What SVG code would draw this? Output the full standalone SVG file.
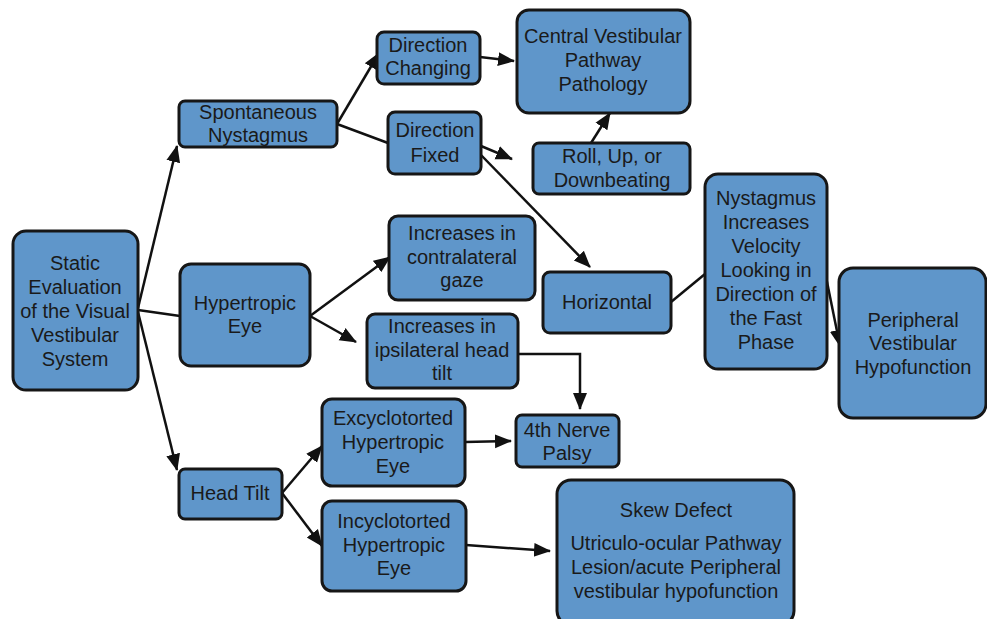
<svg xmlns="http://www.w3.org/2000/svg" width="987" height="619" viewBox="0 0 987 619">
<defs>
<marker id="ah" markerUnits="userSpaceOnUse" markerWidth="18" markerHeight="16" refX="16" refY="7" orient="auto" viewBox="0 0 18 14">
<path d="M0,0 L17,7 L0,14 z" fill="#111"/>
</marker>
</defs>
<style>
.n rect{fill:#5f96ca;stroke:#161616;stroke-width:3}
.n text{font-family:"Liberation Sans",Arial,sans-serif;font-size:20px;fill:#1a1a1a;text-anchor:middle}
.c line,.c polyline{stroke:#111;stroke-width:2.5;fill:none}
.a{marker-end:url(#ah)}
</style>
<rect width="987" height="619" fill="#fff"/>
<g class="c">
<line class="a" x1="138" y1="308" x2="177" y2="146"/>
<line x1="138" y1="310" x2="180" y2="316"/>
<line class="a" x1="138" y1="312" x2="177" y2="470"/>
<line class="a" x1="337" y1="124" x2="379" y2="53"/>
<line x1="337" y1="124" x2="388" y2="143"/>
<line class="a" x1="480" y1="57" x2="514" y2="61"/>
<line class="a" x1="481" y1="146" x2="512" y2="159"/>
<line class="a" x1="481" y1="155" x2="590" y2="267"/>
<line class="a" x1="591" y1="143" x2="610" y2="113"/>
<line class="a" x1="310" y1="316" x2="390" y2="257"/>
<line class="a" x1="310" y1="316" x2="356" y2="342"/>
<polyline class="a" points="518,354 580,354 580,409"/>
<line x1="671" y1="302" x2="705" y2="274"/>
<line class="a" x1="826" y1="277" x2="840" y2="346"/>
<line class="a" x1="282" y1="493" x2="322" y2="446"/>
<line class="a" x1="282" y1="493" x2="322" y2="546"/>
<line class="a" x1="465" y1="442" x2="511" y2="441"/>
<line class="a" x1="466" y1="545" x2="550" y2="551"/>
</g>
<g class="n" id="static"><rect x="13" y="231" width="125" height="159" rx="13"/><text x="75" y="270">Static</text><text x="75" y="294">Evaluation</text><text x="75" y="318">of the Visual</text><text x="75" y="342">Vestibular</text><text x="75" y="366">System</text></g>
<g class="n" id="spont"><rect x="179" y="101" width="158" height="46" rx="6"/><text x="258" y="119">Spontaneous</text><text x="258" y="142">Nystagmus</text></g>
<g class="n" id="hyper"><rect x="180" y="264" width="130" height="102" rx="11"/><text x="245" y="310">Hypertropic</text><text x="245" y="333">Eye</text></g>
<g class="n" id="headtilt"><rect x="179" y="469" width="103" height="50" rx="6"/><text x="230" y="500">Head Tilt</text></g>
<g class="n" id="dirchg"><rect x="377" y="32" width="103" height="52" rx="7"/><text x="428" y="52">Direction</text><text x="428" y="75">Changing</text></g>
<g class="n" id="dirfix"><rect x="388" y="112" width="93" height="62" rx="7"/><text x="435" y="137">Direction</text><text x="435" y="162">Fixed</text></g>
<g class="n" id="central"><rect x="517" y="10" width="173" height="103" rx="12"/><text x="603" y="43">Central Vestibular</text><text x="603" y="67">Pathway</text><text x="603" y="91">Pathology</text></g>
<g class="n" id="roll"><rect x="533" y="143" width="157" height="51" rx="6"/><text x="612" y="163">Roll, Up, or</text><text x="612" y="187">Downbeating</text></g>
<g class="n" id="contra"><rect x="389" y="216" width="146" height="84" rx="9"/><text x="462" y="240">Increases in</text><text x="462" y="264">contralateral</text><text x="462" y="287">gaze</text></g>
<g class="n" id="horiz"><rect x="543" y="272" width="128" height="61" rx="7"/><text x="607" y="309">Horizontal</text></g>
<g class="n" id="ipsi"><rect x="367" y="314" width="151" height="74" rx="8"/><text x="442" y="333">Increases in</text><text x="442" y="357">ipsilateral head</text><text x="442" y="380">tilt</text></g>
<g class="n" id="nyst"><rect x="705" y="174" width="122" height="195" rx="13"/><text x="766" y="205">Nystagmus</text><text x="766" y="229">Increases</text><text x="766" y="253">Velocity</text><text x="766" y="277">Looking in</text><text x="766" y="301">Direction of</text><text x="766" y="325">the Fast</text><text x="766" y="349">Phase</text></g>
<g class="n" id="periph"><rect x="839" y="268" width="147" height="150" rx="14"/><text x="913" y="327">Peripheral</text><text x="913" y="350">Vestibular</text><text x="913" y="374">Hypofunction</text></g>
<g class="n" id="excyc"><rect x="322" y="399" width="143" height="87" rx="10"/><text x="393" y="425">Excyclotorted</text><text x="393" y="449">Hypertropic</text><text x="393" y="473">Eye</text></g>
<g class="n" id="fourth"><rect x="516" y="415" width="103" height="52" rx="6"/><text x="567" y="437">4th Nerve</text><text x="567" y="460">Palsy</text></g>
<g class="n" id="incyc"><rect x="322" y="501" width="144" height="90" rx="10"/><text x="394" y="528">Incyclotorted</text><text x="394" y="552">Hypertropic</text><text x="394" y="575">Eye</text></g>
<g class="n" id="skew"><rect x="557" y="480" width="237" height="145" rx="14"/><text x="676" y="517">Skew Defect</text><text x="676" y="550">Utriculo-ocular Pathway</text><text x="676" y="574">Lesion/acute Peripheral</text><text x="676" y="598">vestibular hypofunction</text></g>
</svg>
